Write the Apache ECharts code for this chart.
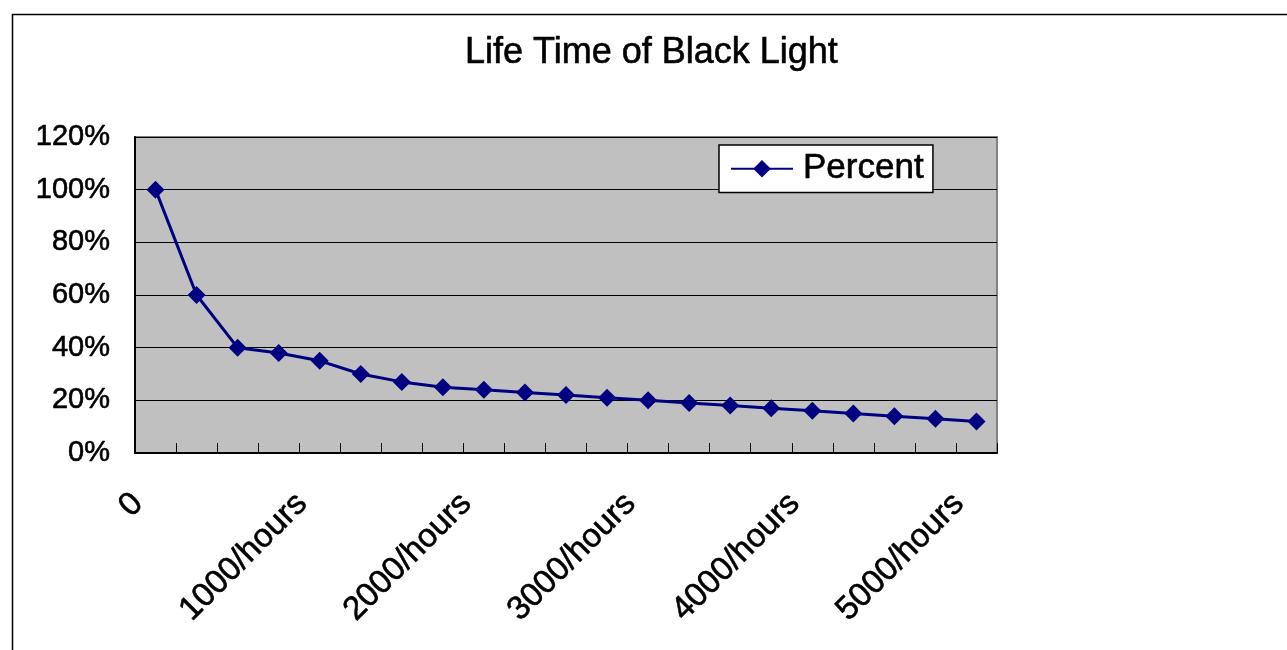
<!DOCTYPE html>
<html>
<head>
<meta charset="utf-8">
<script src="https://cdn.jsdelivr.net/npm/echarts@6/dist/echarts.min.js"></script>
<style>
html,body{margin:0;padding:0;background:#fff;}
#c{width:1287px;height:650px;}
</style>
</head>
<body>
<div id="c"></div>
<script>
var categories = ['0','250/hours','500/hours','750/hours','1000/hours','1250/hours','1500/hours','1750/hours','2000/hours','2250/hours','2500/hours','2750/hours','3000/hours','3250/hours','3500/hours','3750/hours','4000/hours','4250/hours','4500/hours','4750/hours','5000/hours'];
var percentValues = [100,60,40,38,35,30,27,25,24,23,22,21,20,19,18,17,16,15,14,13,12];
var yTicks = [0,20,40,60,80,100,120];

var FONT = 'Arial, "Liberation Sans", sans-serif';
var chart = echarts.init(document.getElementById('c'));
chart.setOption({
  animation: false,
  backgroundColor: '#fff',
  graphic: [{
    type: 'rect', left: 10, top: 12, shape: {width: 1300, height: 700},
    style: {fill: 'none', stroke: '#000', lineWidth: 1.5}, silent: true, z: -1
  }],
  title: {
    text: 'Life Time of Black Light',
    left: 465, top: 35, padding: 0,
    textStyle: {fontFamily: FONT, fontSize: 36, fontWeight: 'normal', color: '#000',
      textBorderColor: '#000', textBorderWidth: 0.6}
  },
  legend: {
    left: 719, top: 145,
    padding: [6, 9, 6, 11],
    backgroundColor: '#fff', borderColor: '#000', borderWidth: 1.5, borderRadius: 0,
    itemWidth: 62, itemHeight: 22, itemGap: 0,
    textStyle: {fontFamily: FONT, fontSize: 35, color: '#000', padding: [6,0,0,5],
      textBorderColor: '#000', textBorderWidth: 0.6},
    data: ['Percent']
  },
  grid: {
    left: 135, top: 137, right: 290, bottom: 197,
    show: true, backgroundColor: '#C0C0C0', borderColor: '#808080', borderWidth: 2,
    containLabel: false
  },
  xAxis: {
    type: 'category',
    data: categories,
    boundaryGap: true,
    axisLine: {lineStyle: {color: '#000', width: 2}},
    axisTick: {show: true, inside: true, length: 10, interval: 0, alignWithLabel: false, lineStyle: {color: '#000', width: 1}},
    axisLabel: {
      interval: 3, rotate: 45, margin: 28,
      fontFamily: FONT, fontSize: 33, color: '#000',
      textBorderColor: '#000', textBorderWidth: 0.6,
      padding: [0, 25, 0, 0]
    },
    splitLine: {show: false}
  },
  yAxis: {
    type: 'value', min: 0, max: 120, interval: 20,
    axisLine: {show: true, lineStyle: {color: '#000', width: 2}},
    axisTick: {show: true, inside: true, length: 10, lineStyle: {color: '#000', width: 1}},
    axisLabel: {
      margin: 25, fontFamily: FONT, fontSize: 29, color: '#000',
      textBorderColor: '#000', textBorderWidth: 0.6,
      padding: [6, 0, 0, 0],
      formatter: function (v) { return yTicks.indexOf(v) >= 0 ? v + '%' : ''; }
    },
    splitLine: {show: true, lineStyle: {color: '#000', width: 1}}
  },
  series: [{
    name: 'Percent',
    type: 'line',
    data: percentValues,
    symbol: 'diamond', symbolSize: 18,
    lineStyle: {color: '#000080', width: 3},
    itemStyle: {color: '#000080'}
  }]
});
</script>
</body>
</html>
